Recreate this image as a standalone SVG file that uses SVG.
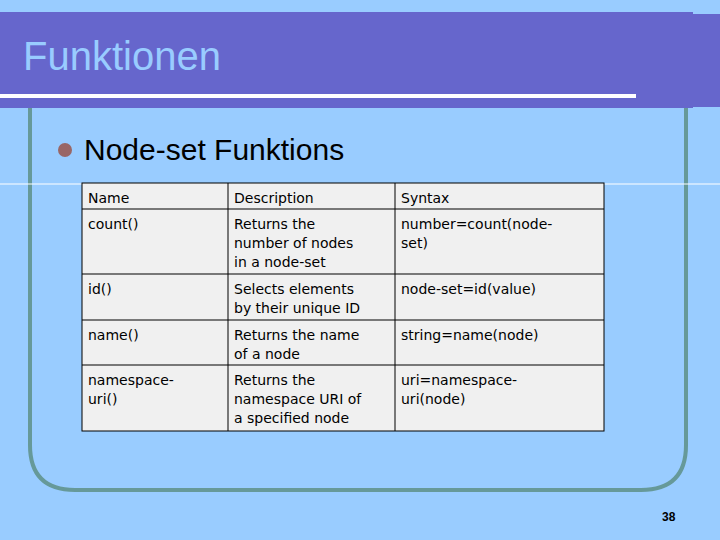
<svg xmlns="http://www.w3.org/2000/svg" width="720" height="540" viewBox="0 0 720 540">
<style>
.c{font-family:"DejaVu Sans",Verdana,sans-serif;font-size:14px;fill:#000}
.g{stroke:#000;stroke-width:1}
</style>
<rect width="720" height="540" fill="#99ccff"/>
<path d="M30 100 V445 Q30 490 75 490 H641 Q686 490 686 445 V100" fill="none" stroke="#669999" stroke-width="4"/>
<rect x="0" y="12" width="693" height="96" fill="#6666cc"/>
<rect x="693" y="14" width="27" height="93" fill="#6666cc"/>
<line x1="0" y1="96" x2="636" y2="96" stroke="#fff" stroke-width="4"/>
<text x="23" y="70" font-family="Liberation Sans,Arial,sans-serif" font-size="40" fill="#99ccff">Funktionen</text>
<line x1="0" y1="184" x2="720" y2="184" stroke="#fff" stroke-width="1"/>
<circle cx="65" cy="150" r="7" fill="#996666"/>
<text x="84" y="160" font-family="Liberation Sans,Arial,sans-serif" font-size="30" fill="#000">Node-set Funktions</text>
<g id="table">
<rect x="82" y="183" width="522" height="248" fill="#f0f0f0" class="g"/>
<line x1="228" y1="183" x2="228" y2="431" class="g"/>
<line x1="395" y1="183" x2="395" y2="431" class="g"/>
<line x1="82" y1="209" x2="604" y2="209" class="g"/>
<line x1="82" y1="274" x2="604" y2="274" class="g"/>
<line x1="82" y1="320" x2="604" y2="320" class="g"/>
<line x1="82" y1="365" x2="604" y2="365" class="g"/>
<text class="c" x="88" y="203">Name</text>
<text class="c" x="234" y="203">Description</text>
<text class="c" x="401" y="203">Syntax</text>
<text class="c" x="88" y="229">count()</text>
<text class="c" x="234" y="229">Returns the</text>
<text class="c" x="234" y="248">number of nodes</text>
<text class="c" x="234" y="267">in a node-set</text>
<text class="c" x="401" y="229">number=count(node-</text>
<text class="c" x="401" y="248">set)</text>
<text class="c" x="88" y="294">id()</text>
<text class="c" x="234" y="294">Selects elements</text>
<text class="c" x="234" y="313">by their unique ID</text>
<text class="c" x="401" y="294">node-set=id(value)</text>
<text class="c" x="88" y="340">name()</text>
<text class="c" x="234" y="340">Returns the name</text>
<text class="c" x="234" y="359">of a node</text>
<text class="c" x="401" y="340">string=name(node)</text>
<text class="c" x="88" y="385">namespace-</text>
<text class="c" x="88" y="404">uri()</text>
<text class="c" x="234" y="385">Returns the</text>
<text class="c" x="234" y="404">namespace URI of</text>
<text class="c" x="234" y="423">a specified node</text>
<text class="c" x="401" y="385">uri=namespace-</text>
<text class="c" x="401" y="404">uri(node)</text>
</g>
<text x="662" y="521" font-family="Liberation Sans,Arial,sans-serif" font-size="12" font-weight="bold" fill="#000">38</text>
</svg>
